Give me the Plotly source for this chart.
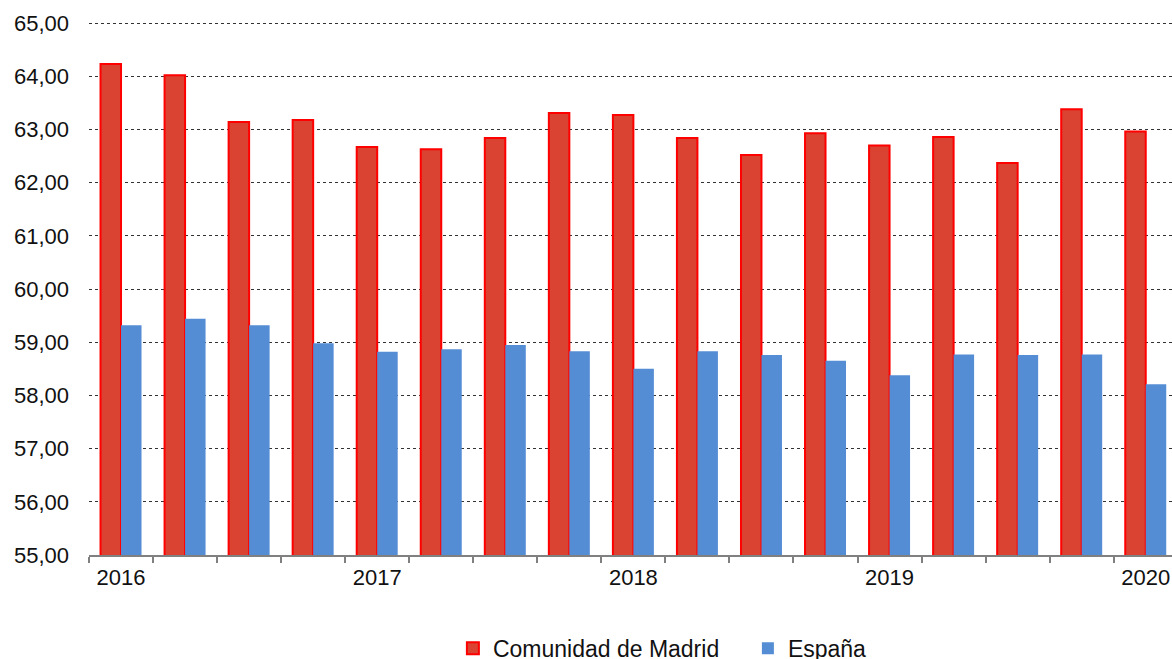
import plotly.graph_objects as go

quarters = ["2016T1", "2016T2", "2016T3", "2016T4",
            "2017T1", "2017T2", "2017T3", "2017T4",
            "2018T1", "2018T2", "2018T3", "2018T4",
            "2019T1", "2019T2", "2019T3", "2019T4",
            "2020T1"]
year_labels = ["2016", "", "", "", "2017", "", "", "", "2018", "", "", "", "2019", "", "", "", "2020"]

madrid = [64.23, 64.02, 63.14, 63.18, 62.67, 62.63, 62.84, 63.31, 63.27,
          62.84, 62.52, 62.93, 62.70, 62.86, 62.37, 63.38, 62.96]
espana = [59.32, 59.44, 59.32, 58.98, 58.82, 58.87, 58.95, 58.83, 58.50,
          58.83, 58.76, 58.65, 58.38, 58.77, 58.76, 58.77, 58.21]

fig = go.Figure()
fig.add_trace(go.Bar(
    x=quarters, y=madrid, name="Comunidad de Madrid",
    marker=dict(color="#DA4332", line=dict(color="#FF0000", width=2)),
))
fig.add_trace(go.Bar(
    x=quarters, y=espana, name="España",
    marker=dict(color="#558DD5", line=dict(width=0)),
))

fig.update_layout(
    width=1172, height=659,
    margin=dict(l=89, r=0, t=22, b=104, autoexpand=False),
    plot_bgcolor="white", paper_bgcolor="white",
    barmode="group", bargap=0.36, bargroupgap=0.0,
    separators=",.",
    font=dict(family="Liberation Sans, Arial, sans-serif", size=22, color="#111111"),
    legend=dict(orientation="h", x=0.336, xanchor="left", y=-0.175, yanchor="middle",
                font=dict(size=23), itemwidth=30, traceorder="normal",
                entrywidth=250),
    showlegend=True,
)
fig.update_xaxes(
    type="category", categoryorder="array", categoryarray=quarters,
    range=[-0.5, 16.41], automargin=False,
    tickvals=quarters, ticktext=year_labels,
    tickson="boundaries", ticks="outside", ticklen=6, tickcolor="#808080", tickwidth=1.5,
    showline=True, linecolor="#808080", linewidth=1.5,
    showgrid=False, tickfont=dict(size=22), ticklabelstandoff=2,
)
fig.update_yaxes(
    range=[55, 65.02], tickvals=[55, 56, 57, 58, 59, 60, 61, 62, 63, 64, 65],
    tickformat=".2f", automargin=False,
    showgrid=True, gridcolor="#333333", griddash="dot", gridwidth=1,
    zeroline=False, showline=False, ticks="",
    ticklabelstandoff=19, tickfont=dict(size=22),
)

fig.write_html(
    "out.html",
    config={"displayModeBar": False},
    post_script="document.body.style.margin='0';document.body.style.overflow='hidden';",
)
